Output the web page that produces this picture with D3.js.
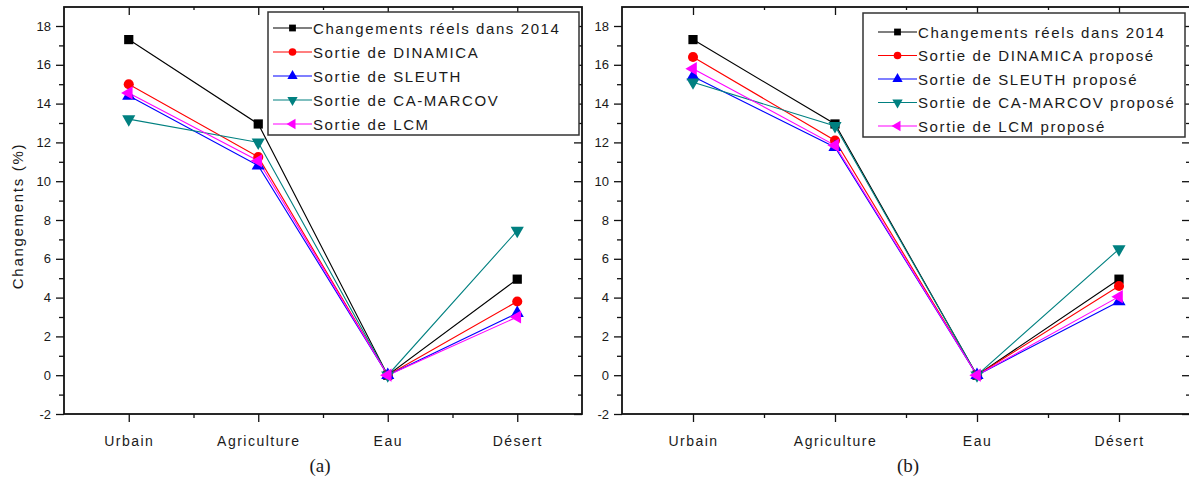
<!DOCTYPE html>
<html>
<head>
<meta charset="utf-8">
<script src="https://cdn.jsdelivr.net/npm/d3@7"></script>
<style>
  html, body { margin: 0; padding: 0; background: #fff; }
  svg { display: block; }
  text { font-family: "Liberation Sans", Arial, sans-serif; fill: #1a1a1a; }
</style>
</head>
<body>
<svg id="chart" width="1189" height="481"></svg>
<script>
// ---------- data ----------
const categories = ["Urbain", "Agriculture", "Eau", "Désert"];
const yTickValues = [-2, 0, 2, 4, 6, 8, 10, 12, 14, 16, 18];
const yTickLabels = ["-2", "0", "2", "4", "6", "8", "10", "12", "14", "16", "18"];
const yMinorTicks = [-1, 1, 3, 5, 7, 9, 11, 13, 15, 17];

const reels2014 = [17.3, 12.95, 0, 4.95];

const dinamicaA = [15.0, 11.25, 0, 3.8];
const sleuthA   = [14.4, 10.8, 0, 3.2];
const caMarcovA = [13.2, 12.0, 0, 7.45];
const lcmA      = [14.55, 11.05, 0, 3.0];

const dinamicaB = [16.4, 12.1, 0, 4.6];
const sleuthB   = [15.4, 11.75, 0, 3.8];
const caMarcovB = [15.1, 12.85, 0, 6.5];
const lcmB      = [15.8, 11.85, 0, 4.05];

const legendA = ["Changements réels dans 2014", "Sortie de DINAMICA", "Sortie de SLEUTH", "Sortie de CA-MARCOV", "Sortie de LCM"];
const legendB = ["Changements réels dans 2014", "Sortie de DINAMICA proposé", "Sortie de SLEUTH proposé", "Sortie de CA-MARCOV proposé", "Sortie de LCM proposé"];

const yTitle = "Changements (%)";
const panelLabels = ["(a)", "(b)"];

// ---------- styles ----------
const colors = ["#000000", "#ff0000", "#0000ff", "#008080", "#ff00ff"];
const symbolTypes = [d3.symbolSquare, d3.symbolCircle, d3.symbolTriangle, d3.symbolTriangle, d3.symbolTriangle];
const symbolRot = [0, 0, 0, 180, -90];

const svg = d3.select("#chart");

function drawPanel(cfg) {
  const x = d3.scaleLinear().domain([0.5, 4.5]).range([cfg.x0, cfg.x1]);
  const y = d3.scaleLinear().domain([-2, 18]).range([cfg.yb, cfg.y18]);
  const yTop = cfg.yTop;

  const g = svg.append("g");

  // left axis
  const axL = g.append("g").attr("transform", `translate(${cfg.x0},0)`)
    .call(d3.axisLeft(y).tickValues(yTickValues).tickSize(8).tickSizeOuter(0).tickPadding(5)
      .tickFormat(d => yTickLabels[yTickValues.indexOf(d)]));
  axL.selectAll("text").style("font-size", "13px").attr("fill", "#1a1a1a");
  g.append("g").attr("transform", `translate(${cfg.x0},0)`)
    .call(d3.axisLeft(y).tickValues(yMinorTicks).tickSize(5).tickSizeOuter(0).tickFormat(""));
  // right axis (inward)
  g.append("g").attr("transform", `translate(${cfg.x1},0)`)
    .call(d3.axisLeft(y).tickValues(yTickValues).tickSize(8).tickSizeOuter(0).tickFormat(""));
  g.append("g").attr("transform", `translate(${cfg.x1},0)`)
    .call(d3.axisLeft(y).tickValues(yMinorTicks).tickSize(4).tickSizeOuter(0).tickFormat(""));
  // bottom axis
  const axB = g.append("g").attr("transform", `translate(0,${cfg.yb})`)
    .call(d3.axisBottom(x).tickValues([1, 2, 3, 4]).tickSize(8).tickSizeOuter(0).tickPadding(14)
      .tickFormat(d => categories[d - 1]));
  axB.selectAll("text").style("font-size", "14px").style("letter-spacing", "1.5px").attr("fill", "#1a1a1a");
  g.append("g").attr("transform", `translate(0,${cfg.yb})`)
    .call(d3.axisBottom(x).tickValues([1.5, 2.5, 3.5]).tickSize(4).tickSizeOuter(0).tickFormat(""));
  // top axis (inward)
  g.append("g").attr("transform", `translate(0,${yTop})`)
    .call(d3.axisBottom(x).tickValues([1, 2, 3, 4]).tickSize(8).tickSizeOuter(0).tickFormat(""));
  g.append("g").attr("transform", `translate(0,${yTop})`)
    .call(d3.axisBottom(x).tickValues([1.5, 2.5, 3.5]).tickSize(3).tickSizeOuter(0).tickFormat(""));

  g.selectAll(".domain").remove();
  g.selectAll(".tick line").attr("stroke", "#111").attr("stroke-width", 1.3);

  // frame
  g.append("rect").attr("x", cfg.x0).attr("y", yTop)
    .attr("width", cfg.x1 - cfg.x0).attr("height", cfg.yb - yTop)
    .attr("fill", "none").attr("stroke", "#111").attr("stroke-width", 1.8);

  // series
  const line = d3.line().x((d, i) => x(i + 1)).y(d => y(d));
  cfg.series.forEach((vals, si) => {
    g.append("path").datum(vals).attr("d", line)
      .attr("fill", "none").attr("stroke", colors[si]).attr("stroke-width", 1.1);
  });
  cfg.series.forEach((vals, si) => {
    const sym = d3.symbol().type(symbolTypes[si]).size(si === 0 ? 85 : (si === 1 ? 80 : 75));
    g.selectAll(null).data(vals).enter().append("path")
      .attr("d", sym)
      .attr("transform", (d, i) => `translate(${x(i + 1)},${y(d)}) rotate(${symbolRot[si]})`)
      .attr("fill", colors[si]);
  });

  // legend
  const L = cfg.legend;
  g.append("rect").attr("x", L.x).attr("y", L.y).attr("width", L.w).attr("height", L.h)
    .attr("fill", "#fff").attr("stroke", "#333").attr("stroke-width", 1.5);
  cfg.names.forEach((name, si) => {
    const cy = L.rowY0 + si * L.rowStep;
    g.append("line").attr("x1", L.lx1).attr("x2", L.lx2).attr("y1", cy).attr("y2", cy)
      .attr("stroke", colors[si]).attr("stroke-width", 1.2);
    const sym = d3.symbol().type(symbolTypes[si]).size(46);
    g.append("path").attr("d", sym)
      .attr("transform", `translate(${(L.lx1 + L.lx2) / 2},${cy}) rotate(${symbolRot[si]})`)
      .attr("fill", colors[si]);
    g.append("text").attr("x", L.lx2 + 1).attr("y", cy + 5.5)
      .style("font-size", "15px").style("letter-spacing", "1.6px")
      .text(name);
  });

  // panel label
  g.append("text").attr("x", cfg.labelX).attr("y", 472)
    .attr("text-anchor", "middle")
    .style("font-family", "'Liberation Serif', 'Times New Roman', serif")
    .style("font-size", "19px")
    .text(cfg.label);
}

drawPanel({
  x0: 64, x1: 582, yTop: 7, yb: 414, y18: 26,
  series: [reels2014, dinamicaA, sleuthA, caMarcovA, lcmA],
  names: legendA,
  legend: { x: 268, y: 12, w: 311, h: 123, lx1: 273, lx2: 312, rowY0: 28, rowStep: 24 },
  label: panelLabels[0], labelX: 320
});

drawPanel({
  x0: 622, x1: 1190, yTop: 7, yb: 414, y18: 26,
  series: [reels2014, dinamicaB, sleuthB, caMarcovB, lcmB],
  names: legendB,
  legend: { x: 863, y: 13, w: 322, h: 124, lx1: 878, lx2: 917, rowY0: 32, rowStep: 23.5 },
  label: panelLabels[1], labelX: 908
});

// y axis title (left panel only)
svg.append("text")
  .attr("transform", "translate(23,216) rotate(-90)")
  .attr("text-anchor", "middle")
  .style("font-size", "15px").style("letter-spacing", "1.7px")
  .text(yTitle);
</script>
</body>
</html>
